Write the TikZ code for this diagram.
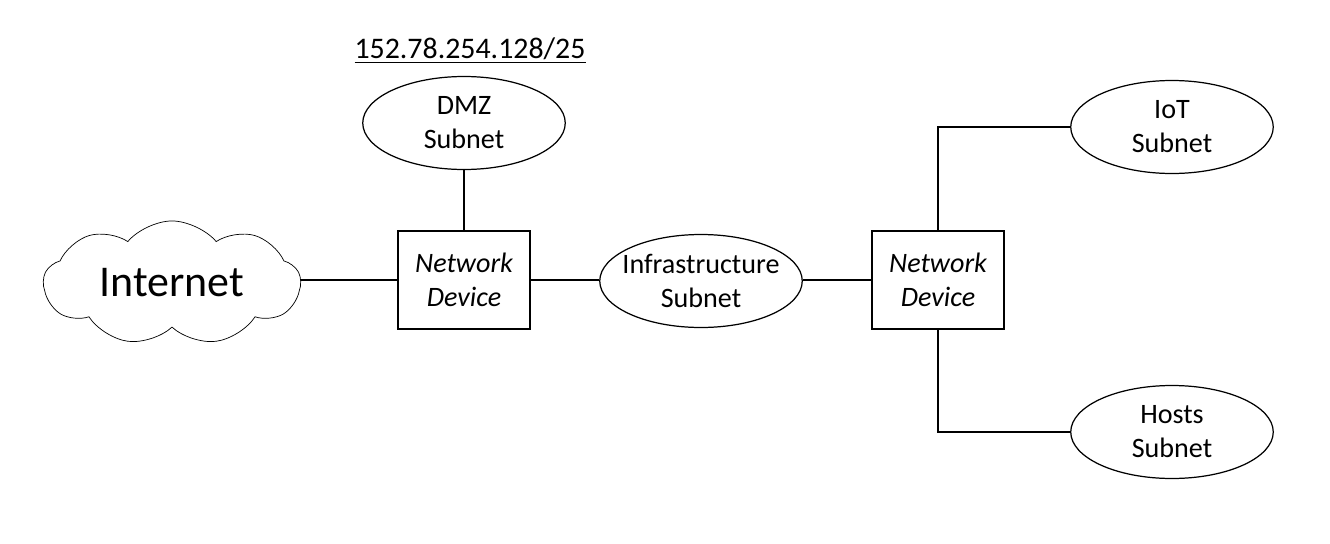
\documentclass[tikz,border=0pt]{standalone}
\usepackage{fontspec}
\setmainfont{Carlito}
\usepackage{tikz}
\usetikzlibrary{shapes.geometric, shapes.symbols}
\tikzset{
  device/.style={rectangle,draw,line width=1.4pt,minimum width=2.64cm,minimum height=1.96cm,inner sep=0pt,align=center,font=\fontsize{16}{19.3}\selectfont\itshape},
  subnet/.style={ellipse,draw,line width=0.7pt,minimum width=4.05cm,minimum height=1.86cm,inner sep=0pt,align=center,font=\fontsize{16}{19.3}\selectfont},
  link/.style={line width=1pt}
}

\begin{document}
\begin{tikzpicture}
  \useasboundingbox (0,0) rectangle (26.6,-10.88);
  \node[cloud,draw,line width=0.4pt,cloud puffs=9,cloud puff arc=100,aspect=2.1,minimum width=5.14cm,minimum height=2.45cm,inner sep=0pt,font=\fontsize{25}{30}\selectfont] (inet) at (3.44,-5.66) {Internet};
  \node[device] (dev1) at (9.28,-5.6) {Network\\Device};
  \node[subnet] (dmz) at (9.28,-2.46) {DMZ\\Subnet};
  \node[font=\fontsize{17}{20}\selectfont] (addr) at (9.40,-1.02) {\underline{152.78.254.128/25}};
  \node[subnet,inner xsep=-0.16cm] (infra) at (14.02,-5.62) {Infrastructure\\Subnet};
  \node[device] (dev2) at (18.76,-5.6) {Network\\Device};
  \node[subnet] (iot) at (23.44,-2.54) {IoT\\Subnet};
  \node[subnet] (hosts) at (23.44,-8.64) {Hosts\\Subnet};
  % links
  \draw[link] (dev1.west) -- (dev1.west -| inet.east);
  \draw[link] (dmz) -- (dev1);
  \draw[link] (dev1.east) -- (dev1.east -| infra.west);
  \draw[link] (dev2.west) -- (dev2.west -| infra.east);
  \draw[link] (dev2.north) |- (iot.west);
  \draw[link] (dev2.south) |- (hosts.west);
\end{tikzpicture}
\end{document}
